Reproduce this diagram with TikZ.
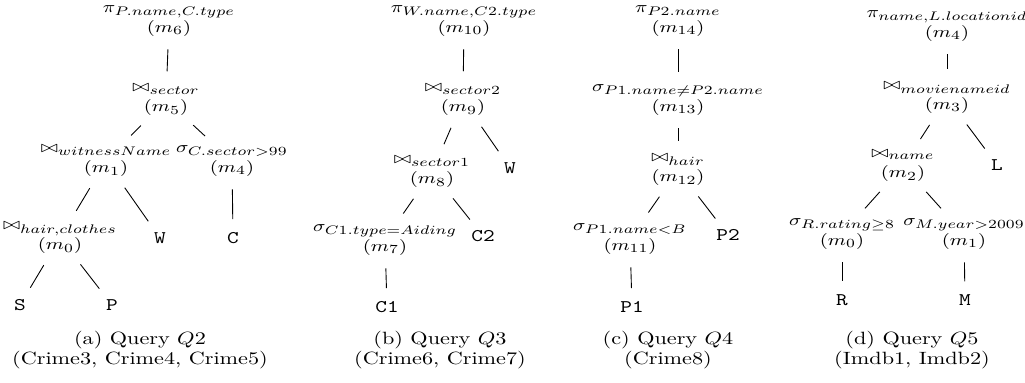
\documentclass[tikz,border=0pt]{standalone}
\DeclareMathSizes{9}{9}{7}{5}
\begin{document}
\begin{tikzpicture}[
    x=0.45pt, y=-0.45pt,
    op/.style={align=center, font=\small, yscale=0.8, inner sep=1pt},
    rel/.style={font=\ttfamily, yscale=0.8, inner sep=1pt},
    subcap/.style={align=center, font=\fontsize{10}{11}\selectfont, yscale=0.8},
    link/.style={shorten <=5pt, shorten >=5pt}
]
    \useasboundingbox (0,0) rectangle (1025,383);

    % Query Q2
    \node[op] (a6) at (169,21) {$\pi_{P.name,C.type}$\\$(m_6)$};
    \node[op] (a5) at (166,100) {$\bowtie_{sector}$\\$(m_5)$};
    \node[op] (a1) at (106,161) {$\bowtie_{witnessName}$\\$(m_1)$};
    \node[op] (a4) at (232,161) {$\sigma_{C.sector>99}$\\$(m_4)$};
    \node[op] (a0) at (60,238) {$\bowtie_{hair,clothes}$\\$(m_0)$};
    \node[rel] (aW) at (160,238) {W};
    \node[rel] (aC) at (233,238) {C};
    \node[rel] (aS) at (20,305) {S};
    \node[rel] (aP) at (112,305) {P};
    \draw[link] (a6) -- (a5);
    \draw[link] (a5) -- (a1);
    \draw[link] (a5) -- (a4);
    \draw[link] (a1) -- (a0);
    \draw[link] (a1) -- (aW);
    \draw[link] (a4) -- (aC);
    \draw[link] (a0) -- (aS);
    \draw[link] (a0) -- (aP);
    \node[subcap] (capa) at (140,350) {(a) Query $Q2$\\(Crime3, Crime4, Crime5)};

    % Query Q3
    \node[op] (b10) at (464,21) {$\pi_{W.name,C2.type}$\\$(m_{10})$};
    \node[op] (b9) at (463,100) {$\bowtie_{sector2}$\\$(m_9)$};
    \node[op] (b8) at (432,172) {$\bowtie_{sector1}$\\$(m_8)$};
    \node[rel] (bW) at (510,168) {W};
    \node[op] (b7) at (385,240) {$\sigma_{C1.type=Aiding}$\\$(m_7)$};
    \node[rel] (bC2) at (483,236) {C2};
    \node[rel] (bC1) at (387,307) {C1};
    \draw[link] (b10) -- (b9);
    \draw[link] (b9) -- (b8);
    \draw[link] (b9) -- (bW);
    \draw[link] (b8) -- (b7);
    \draw[link] (b8) -- (bC2);
    \draw[link] (b7) -- (bC1);
    \node[subcap] (capb) at (440,350) {(b) Query $Q3$\\(Crime6, Crime7)};

    % Query Q4
    \node[op] (c14) at (678,21) {$\pi_{P2.name}$\\$(m_{14})$};
    \node[op] (c13) at (678,100) {$\sigma_{P1.name\neq P2.name}$\\$(m_{13})$};
    \node[op] (c12) at (678,170) {$\bowtie_{hair}$\\$(m_{12})$};
    \node[op] (c11) at (630,239) {$\sigma_{P1.name<B}$\\$(m_{11})$};
    \node[rel] (cP2) at (728,235) {P2};
    \node[rel] (cP1) at (632,307) {P1};
    \draw[link] (c14) -- (c13);
    \draw[link] (c13) -- (c12);
    \draw[link] (c12) -- (c11);
    \draw[link] (c12) -- (cP2);
    \draw[link] (c11) -- (cP1);
    \node[subcap] (capc) at (668,350) {(c) Query $Q4$\\(Crime8)};

    % Query Q5
    \node[op] (d4) at (947,26) {$\pi_{name,L.locationid}$\\$(m_4)$};
    \node[op] (d3) at (947,98) {$\bowtie_{movienameid}$\\$(m_3)$};
    \node[op] (d2) at (903,166) {$\bowtie_{name}$\\$(m_2)$};
    \node[rel] (dL) at (997,165) {L};
    \node[op] (d0) at (842,234) {$\sigma_{R.rating\geq 8}$\\$(m_0)$};
    \node[op] (d1) at (964,234) {$\sigma_{M.year>2009}$\\$(m_1)$};
    \node[rel] (dR) at (842,300) {R};
    \node[rel] (dM) at (965,300) {M};
    \draw[link] (d4) -- (d3);
    \draw[link] (d3) -- (d2);
    \draw[link] (d3) -- (dL);
    \draw[link] (d2) -- (d0);
    \draw[link] (d2) -- (d1);
    \draw[link] (d0) -- (dR);
    \draw[link] (d1) -- (dM);
    \node[subcap] (capd) at (912,350) {(d) Query $Q5$\\(Imdb1, Imdb2)};
\end{tikzpicture}
\end{document}
